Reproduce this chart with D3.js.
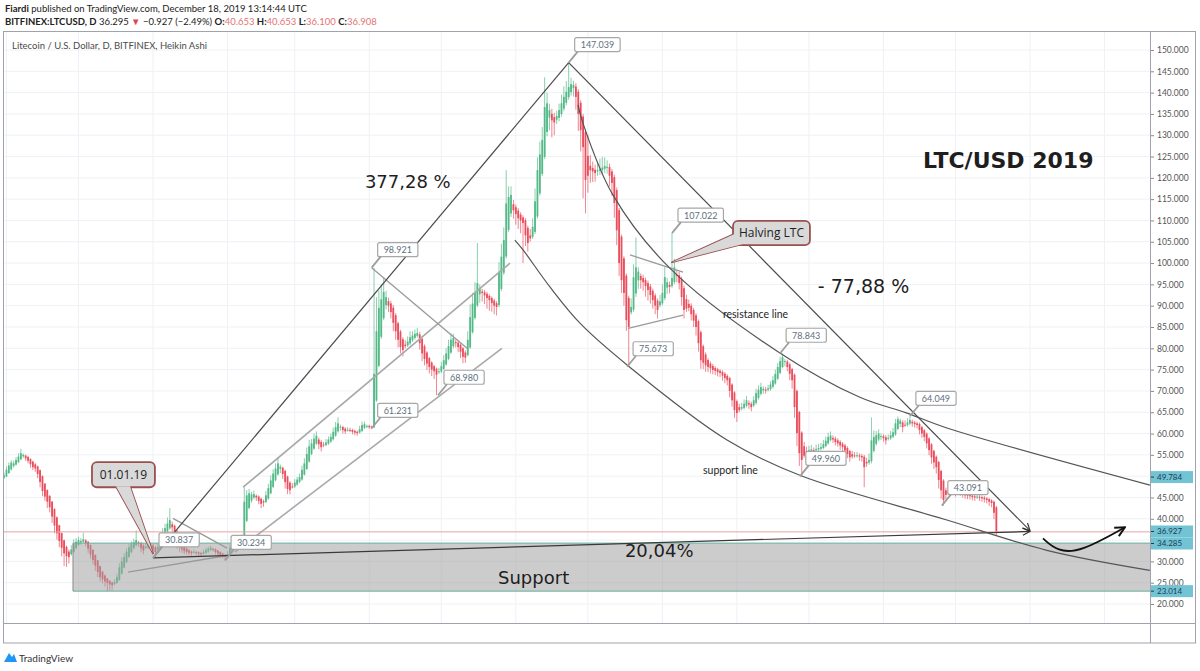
<!DOCTYPE html>
<html><head><meta charset="utf-8">
<script src="https://cdn.jsdelivr.net/npm/d3@7"></script>
<style>body{margin:0;background:#fff;overflow:hidden}svg{display:block}</style>
</head><body>
<svg id="chart" width="1200" height="671"></svg>
<script>
// ---------------- DATA ----------------
const startDate = "2018-10-31";          // first daily Heikin Ashi candle
const firstOpen = 49.6;
// Heikin Ashi close, one per day (Oct 31 2018 -> Dec 18 2019)
const haClose = `
50.2 51.5 52.5 53.2 53.0 53.8 54.6 55.4 55.0 54.2
53.6 52.8 52.1 51.8 50.5 48.6 46.5 45.2 44.0 42.7
40.5 38.4 36.6 34.8 33.2 31.9 31.2 31.0 32.8 34.0
34.6 35.0 34.8 35.2 34.3 33.0 31.6 30.3 29.0 27.5
26.3 25.8 25.3 24.9 24.6 24.4 25.2 26.3 28.6 30.0
31.0 32.3 33.3 34.0 34.5 35.0 34.2 33.1 32.6 33.4
33.8 34.0 32.8 32.2 33.4 35.0 36.6 37.8 38.9 39.7
38.0 36.0 34.5 33.3 32.8 32.4 32.2 32.0 31.9 32.3
32.1 31.8 31.7 32.2 32.6 33.0 33.2 32.8 32.2 31.8
31.5 31.2 31.0 31.6 33.2 33.8 34.2 34.6 35.0 35.5
44.0 45.5 46.0 45.7 45.8 45.0 44.2 43.5 43.8 45.5
47.2 49.0 50.6 51.8 53.0 52.2 50.5 48.6 47.0 46.7
47.5 48.5 49.2 49.8 51.5 53.0 55.2 57.0 57.7 58.8
59.5 57.5 56.8 57.2 57.9 58.6 59.2 60.4 61.5 62.4
61.6 60.8 60.5 60.9 60.8 60.4 60.2 60.1 61.0 62.0
62.2 61.8 61.5 61.3 74.0 84.0 89.5 91.5 93.2 92.0
90.0 88.5 86.0 84.0 82.0 80.3 79.6 80.5 81.6 82.6
83.0 83.4 83.6 81.2 78.8 77.5 76.4 75.6 75.0 74.6
73.8 74.6 75.8 77.2 78.8 80.5 82.0 82.4 81.2 80.3
79.2 78.0 77.8 82.0 87.3 90.5 93.0 95.3 94.0 93.0
92.4 91.8 91.3 90.6 90.0 89.7 97.7 101.5 105.4 114.0
115.5 116.0 112.4 111.5 110.5 110.0 109.4 106.5 104.7 105.8
108.5 114.5 121.8 125.5 128.9 136.6 137.5 135.9 133.5 133.0
134.5 135.9 137.5 139.0 140.2 141.3 142.0 141.8 139.0 135.0
131.2 127.2 119.5 120.5 121.8 121.5 121.1 121.8 122.0 122.4
122.8 122.6 120.5 118.8 114.1 107.7 100.0 96.0 93.0 86.6
85.0 89.7 96.7 99.0 98.0 96.0 95.5 94.6 93.7 92.5
91.3 90.0 89.0 91.0 93.0 96.7 95.5 94.4 96.5 99.0
97.0 95.3 92.0 89.0 89.3 89.5 88.0 86.5 85.0 81.2
77.2 76.6 76.0 75.6 75.3 74.9 74.7 74.4 74.2 73.6
73.0 72.5 70.0 67.8 65.5 64.8 65.5 66.2 67.0 67.8
66.8 66.2 67.8 69.5 70.3 70.9 70.5 70.2 70.6 71.5
72.5 74.0 75.6 77.0 77.9 77.0 75.6 74.0 72.5 66.2
60.1 55.4 53.8 54.8 55.6 56.1 56.3 56.0 56.4 56.6
56.8 57.5 58.3 59.2 59.5 58.6 58.0 57.7 57.2 56.8
56.0 55.2 54.4 54.6 54.8 54.9 54.6 54.4 52.1 53.0
53.8 58.4 59.2 59.6 60.0 59.4 58.9 58.4 59.0 59.6
60.3 62.4 63.4 63.0 61.5 62.0 62.6 63.2 62.4 62.2
62.0 60.8 60.0 59.2 57.7 56.1 54.4 53.2 52.1 49.1
46.7 44.4 45.6 46.0 46.3 46.2 46.0 46.1 46.0 45.8
45.5 45.4 45.3 45.1 45.0 45.2 45.0 44.8 44.6 44.4
44.0 43.7 41.4 36.9`.trim().split(/\s+/).map(Number);
// upper wick above body top (USD)
const wickUp = `
0.6 0.8 0.7 0.5 0.6 0.7 0.8 1.0 0.3 0.2
0.2 0.1 0.2 0.3 0.2 0.2 0.2 0.1 0.2 0.2
0.1 0.2 0.2 0.1 0.1 0.2 0.3 0.5 1.0 1.2
0.9 0.8 0.7 1.5 0.3 0.2 0.2 0.1 0.1 0.1
0.1 0.2 0.2 0.1 0.1 0.2 0.6 0.8 1.0 1.0
0.9 0.8 0.8 0.7 0.8 2.3 0.4 0.3 0.5 0.8
0.6 0.5 0.3 0.3 0.8 1.0 1.2 1.0 1.4 2.8
0.6 0.3 0.2 0.2 0.2 0.3 0.3 0.3 0.3 0.5
0.3 0.2 0.3 0.6 0.6 0.5 0.5 0.3 0.2 0.2
0.2 0.2 0.2 0.8 0.8 0.6 0.6 0.5 0.6 0.8
3.4 1.2 1.0 0.6 0.8 0.3 0.3 0.2 0.4 1.0
1.0 1.2 1.0 1.2 1.4 0.5 0.3 0.3 0.2 0.4
0.8 0.8 0.6 0.8 1.0 1.2 1.5 1.5 1.0 1.2
1.0 0.5 0.4 0.6 0.8 0.7 0.8 1.0 1.2 1.4
0.5 0.3 0.3 0.6 0.5 0.3 0.3 0.3 0.8 0.8
0.6 0.3 0.3 0.2 24.9 8.0 4.0 3.5 3.5 1.5
0.8 0.6 0.6 0.5 0.4 0.4 0.5 1.0 1.2 1.4
1.0 1.0 1.2 0.6 0.4 0.4 0.3 0.3 0.3 0.3
0.3 0.8 1.0 1.2 1.2 1.5 1.5 1.0 0.6 0.5
0.4 0.3 0.5 2.0 3.0 2.5 2.5 9.4 1.0 0.6
0.5 0.5 0.4 0.4 0.4 0.5 2.5 3.0 3.0 7.8
2.5 2.0 1.0 0.6 0.6 0.5 0.5 0.5 0.5 1.5
2.0 3.0 3.0 3.0 3.0 7.0 2.5 1.5 1.2 1.0
1.2 1.5 2.0 2.5 2.5 5.7 1.5 1.0 0.8 0.6
0.6 0.6 0.5 5.0 2.5 1.5 1.2 2.0 2.5 2.5
2.0 1.5 0.8 0.6 0.6 0.6 0.5 0.5 0.5 0.5
0.5 2.0 3.0 7.0 1.0 0.6 0.8 0.6 0.6 0.6
0.5 0.5 0.5 1.5 2.0 2.5 1.0 0.8 10.5 2.0
1.0 0.8 0.6 0.6 1.0 1.0 0.6 0.5 0.5 0.4
0.4 0.4 0.5 0.4 0.5 0.5 0.4 0.4 0.4 0.4
0.4 0.4 0.3 0.3 0.3 0.4 0.8 1.0 1.0 1.0
0.6 0.5 1.0 1.0 1.0 1.0 0.6 0.6 0.8 0.8
1.0 1.0 1.0 1.0 0.9 0.5 0.4 0.4 0.3 0.3
0.3 0.3 0.3 1.0 1.0 1.0 1.0 0.6 1.0 1.0
1.0 1.0 1.0 1.0 1.0 0.6 0.5 0.5 0.4 0.4
0.4 0.4 0.3 0.8 0.8 0.8 0.5 0.5 0.4 1.0
1.5 5.4 1.5 1.0 1.0 0.6 0.5 0.5 0.8 1.0
1.0 1.0 0.6 0.5 0.5 1.0 1.0 0.8 0.5 0.4
0.4 0.4 0.3 0.3 0.3 0.3 0.3 0.3 0.3 0.3
0.3 0.3 0.6 0.8 0.8 0.6 0.5 0.6 0.5 0.4
0.4 0.4 0.4 0.4 0.4 0.6 0.4 0.4 0.4 0.3
0.3 0.3 0.3 0.3`.trim().split(/\s+/).map(Number);
// lower wick below body bottom (USD)
const wickDown = `
0.2 0.1 0.1 0.3 0.4 0.2 0.2 0.1 0.4 0.6
0.6 0.8 0.7 0.8 1.0 1.2 1.2 1.0 1.5 1.2
1.5 1.8 1.5 1.5 2.0 3.0 2.5 1.5 0.3 0.2
0.3 0.3 0.5 0.3 0.8 1.0 0.9 1.0 1.2 1.2
1.0 1.0 1.2 1.9 1.4 1.2 0.4 0.2 0.2 0.2
0.2 0.2 0.3 0.3 0.3 0.3 0.8 1.0 0.9 0.3
0.4 0.5 1.0 1.4 0.3 0.2 0.2 0.3 0.3 0.3
1.5 1.2 1.5 1.0 0.8 0.7 0.6 0.6 0.6 0.3
0.6 0.6 0.5 0.3 0.3 0.3 0.3 0.5 0.6 0.6
0.6 0.5 0.8 0.3 0.2 0.2 0.3 0.3 0.3 0.2
0.2 0.3 0.3 0.5 0.4 0.8 0.8 1.0 1.0 0.3
0.3 0.2 0.3 0.3 0.3 1.0 1.2 1.5 1.2 1.0
0.4 0.3 0.3 0.3 0.3 0.2 0.2 0.3 0.3 0.3
0.3 1.2 1.0 0.4 0.3 0.3 0.3 0.3 0.3 0.3
0.8 0.8 0.6 0.4 0.5 0.6 0.6 0.6 0.3 0.3
0.3 0.5 0.4 0.3 0.2 0.3 0.3 0.5 0.5 1.0
1.5 1.5 2.0 2.0 1.8 1.5 1.5 0.5 0.4 0.4
0.4 0.4 0.4 1.5 1.8 1.5 1.5 1.5 1.5 1.8
4.8 0.5 0.4 0.3 0.3 0.3 0.3 0.5 1.0 1.2
1.5 1.5 1.2 0.3 0.3 0.3 0.4 0.4 2.0 2.0
2.0 2.5 2.5 2.0 2.0 2.0 0.5 0.5 0.5 0.5
0.5 0.8 2.0 2.5 2.5 3.0 9.4 2.5 2.0 0.8
0.5 0.5 0.5 0.5 0.5 0.5 1.0 3.0 4.0 3.0
1.0 0.8 0.6 0.6 0.6 0.6 0.8 2.0 3.0 4.0
5.0 12.0 7.8 4.0 3.0 2.5 2.0 1.0 1.0 1.0
1.0 1.5 2.5 3.0 3.5 3.5 3.0 3.0 3.0 2.5
9.3 0.5 0.5 0.8 2.0 2.0 2.0 2.5 2.5 2.0
2.0 2.0 2.0 0.5 0.5 0.5 1.5 1.5 0.5 0.5
1.5 1.5 2.0 2.0 0.8 0.8 1.5 1.5 2.0 2.0
2.0 1.5 1.5 1.2 1.2 1.0 1.0 1.0 1.0 1.2
1.2 1.2 1.5 1.5 1.8 2.1 0.5 0.4 0.4 0.4
1.0 1.0 0.4 0.4 0.4 0.4 0.8 0.8 0.4 0.4
0.4 0.3 0.3 0.3 0.3 1.0 1.0 1.5 2.0 2.5
3.0 3.0 3.8 0.5 0.5 0.4 0.4 1.0 0.4 0.4
0.4 0.3 0.3 0.3 0.3 0.8 0.8 0.8 1.0 1.0
1.2 1.0 1.0 0.5 0.5 0.5 1.0 1.0 4.7 0.8
0.5 0.5 0.4 0.4 0.4 0.8 0.8 1.0 0.4 0.4
0.3 0.3 0.3 0.8 1.2 0.4 0.4 0.4 0.8 0.8
0.8 1.0 1.0 1.0 1.2 1.2 1.5 1.5 1.5 2.0
2.0 1.3 1.0 0.5 0.5 0.6 0.8 0.5 0.6 0.8
0.8 0.8 0.8 0.8 0.8 0.5 0.8 0.8 0.8 0.8
1.0 1.0 1.5 0.8`.trim().split(/\s+/).map(Number);

// axis ticks
const priceTicks = [20,25,30,35,40,45,50,55,60,65,70,75,80,85,90,95,100,105,110,115,120,125,130,135,140,145,150];
const monthDates = ["2018-11-01","2018-12-01","2019-01-01","2019-02-01","2019-03-01","2019-04-01","2019-05-01","2019-06-01","2019-07-01","2019-08-01","2019-09-01","2019-10-01","2019-11-01","2019-12-01","2020-01-01","2020-02-01"];
const monthLabels = ["Nov","Dec","2019","Feb","Mar","Apr","May","Jun","Jul","Aug","Sep","Oct","Nov","Dec","2020","Feb"];
// price-axis highlighted labels
const axisMarks = [49.784, 36.927, 34.285, 23.014];
const lastPrice = 36.927;
const supportZone = {fromDay: -33.3, top: 34.285, bottom: 23.014};

// drawings: points as [days after 2019-01-01, price]
const riseLine = [[0, 30.837], [173, 147.039]];
const fallLine = [[173, 147.039], [365, 37.2]];
const gainLine = [[0, 30.837], [365, 37.02]];
const resistanceArc = [[176.9,137.1],[178.9,132.9],[191.4,116.0],[215.1,98.8],[260.9,78.9],[294.2,68.5],[313.8,64.8],[330.4,61.3],[414.9,47.9]];
const supportArc = [[150.6,105.4],[154,103.1],[165.2,94.4],[177.7,85.9],[197.3,76.1],[238.9,58.5],[269.2,50.2],[330.4,39.7],[372,32.6],[414.9,27.9]];
const channelUpper = [[37.5,47.4],[148.6,100.0]];
const channelLower = [[34.1,32.2],[145.2,80.0]];
const wedgeLine = [[91,98.921],[130.7,80.0]];
const triUpper = [[198.5,101.9],[220.6,97.9]];
const triLower = [[197.7,84.7],[220.6,87.8]];
const janLow = [[-10.4,27.5],[32,31.5]];
const janHigh = [[8.3,40.1],[30.8,33.1]];
const forecastArrow = [[370.4,35.4],[376.5,32.3],[386,32.2],[404.5,38.0]];

const priceLabels = [
  {d:173, p:147.039}, {d:91, p:98.921}, {d:91, p:61.231}, {d:118.6, p:68.980},
  {d:216, p:107.022}, {d:197.3, p:75.673}, {d:261, p:78.843}, {d:315, p:64.049},
  {d:269.2, p:49.960}, {d:328.3, p:43.091}, {d:0, p:30.837}, {d:30, p:30.234}
];
const callouts = [
  {text:"Halving LTC", d0:241.4, d1:273.4, pTop:109.9, pBot:104.2, tip:[216,100.2], base:"left", size:11},
  {text:"01.01.19", d0:-25.4, d1:0.8, pTop:53.3, pBot:47.4, tip:[0,31.9], base:"bottom", size:11}
];
const notes = [
  {text:"377,28 %", d:88.2, p:117.6, size:18, weight:"normal"},
  {text:"- 77,88 %", d:276.7, p:93.0, size:19, weight:"normal"},
  {text:"LTC/USD 2019", d:320.5, p:122.2, size:22, weight:"bold"},
  {text:"resistance line", d:237.2, p:87.0, size:10.5, weight:"normal"},
  {text:"support line", d:228.9, p:50.6, size:10.5, weight:"normal"},
  {text:"Support", d:143.6, p:24.6, size:18, weight:"normal"},
  {text:"20,04%", d:196.4, p:31.0, size:18, weight:"normal"}
];

// ---------------- CHART ----------------
const svg = d3.select("#chart");
const parse = d3.timeParse("%Y-%m-%d");
const jan1 = parse("2019-01-01");
const dayDate = d => new Date(jan1.getTime() + d * 864e5);
const x = d3.scaleTime().domain([jan1, parse("2020-01-01")]).range([153, 1030]);
const y = d3.scaleLinear().domain([20, 150]).range([604, 50]);
const X = d => x(dayDate(d));
const P = pt => [X(pt[0]), y(pt[1])];
const plot = {l: 3, t: 32, r: 1150, b: 623};
const UP = "#53b987", DOWN = "#eb4d5c";
const uiFont = "Lato, 'Open Sans', sans-serif";
const bigFont = "'DejaVu Sans', Verdana, sans-serif";

const defs = svg.append("defs");
defs.append("clipPath").attr("id", "plotClip").append("rect")
  .attr("x", plot.l).attr("y", plot.t).attr("width", plot.r - plot.l).attr("height", plot.b - plot.t);
defs.append("clipPath").attr("id", "axisClip").append("rect")
  .attr("x", plot.l).attr("y", plot.b).attr("width", plot.r - plot.l).attr("height", 22);
defs.append("marker").attr("id", "arrowDark").attr("viewBox", "0 0 10 10")
  .attr("refX", 9).attr("refY", 5).attr("markerWidth", 9).attr("markerHeight", 9)
  .attr("markerUnits", "userSpaceOnUse").attr("orient", "auto")
  .append("path").attr("d", "M1,1 L9,5 L1,9").attr("fill", "none").attr("stroke", "#333").attr("stroke-width", 1.3);
defs.append("marker").attr("id", "arrowBlack").attr("viewBox", "0 0 10 10")
  .attr("refX", 9).attr("refY", 5).attr("markerWidth", 12).attr("markerHeight", 12)
  .attr("markerUnits", "userSpaceOnUse").attr("orient", "auto")
  .append("path").attr("d", "M1,1 L9,5 L1,9").attr("fill", "none").attr("stroke", "#111").attr("stroke-width", 1.6);

// header
const h1 = svg.append("text").attr("x", 5).attr("y", 12).attr("font-family", uiFont).attr("font-size", 9.5).attr("fill", "#222");
h1.append("tspan").attr("font-weight", "bold").text("Fiardi");
h1.append("tspan").text(" published on TradingView.com, December 18, 2019 13:14:44 UTC");
const h2 = svg.append("text").attr("x", 5).attr("y", 25).attr("font-family", uiFont).attr("font-size", 9.5).attr("fill", "#222");
h2.append("tspan").attr("font-weight", "bold").text("BITFINEX:LTCUSD, D");
h2.append("tspan").text(" 36.295 ");
h2.append("tspan").attr("fill", "#e0474c").text("▼");
h2.append("tspan").text(" −0.927 (−2.49%) ");
[["O:", "40.653"], ["H:", "40.653"], ["L:", "36.100"], ["C:", "36.908"]].forEach(([k, v], i) => {
  h2.append("tspan").attr("font-weight", "bold").text((i ? " " : "") + k);
  h2.append("tspan").attr("fill", "#e57373").text(v);
});

// frame & grid
const grid = svg.append("g");
grid.selectAll("line.h").data(priceTicks).join("line")
  .attr("x1", plot.l).attr("x2", plot.r).attr("y1", d => y(d)).attr("y2", d => y(d))
  .attr("stroke", "#eef1f5").attr("stroke-width", 1);
grid.selectAll("line.v").data(monthDates).join("line")
  .attr("x1", d => x(parse(d))).attr("x2", d => x(parse(d))).attr("y1", plot.t).attr("y2", plot.b)
  .attr("stroke", "#eef1f5").attr("stroke-width", 1);

svg.append("text").attr("x", 12).attr("y", 49).attr("font-family", uiFont).attr("font-size", 9.5)
  .attr("fill", "#4a4a4a").text("Litecoin / U.S. Dollar, D, BITFINEX, Heikin Ashi");

// candles
const start = parse(startDate);
let runOpen = firstOpen;
const candles = haClose.map((c, i) => {
  const open = runOpen;
  runOpen = (open + c) / 2;
  const top = Math.max(open, c), bot = Math.min(open, c);
  return {date: d3.timeDay.offset(start, i), open, close: c, high: top + wickUp[i], low: bot - wickDown[i]};
});
const cg = svg.append("g").attr("clip-path", "url(#plotClip)");
const cand = cg.selectAll("g.c").data(candles).join("g");
cand.append("line")
  .attr("x1", d => x(d.date)).attr("x2", d => x(d.date))
  .attr("y1", d => y(d.high)).attr("y2", d => y(d.low))
  .attr("stroke", d => d.close >= d.open ? UP : DOWN).attr("stroke-width", 0.8).attr("opacity", 0.85);
cand.append("rect")
  .attr("x", d => x(d.date) - 0.9).attr("width", 1.8)
  .attr("y", d => y(Math.max(d.open, d.close)))
  .attr("height", d => Math.max(1, Math.abs(y(d.open) - y(d.close))))
  .attr("fill", d => d.close >= d.open ? UP : DOWN);

// drawings layer
const dg = svg.append("g").attr("clip-path", "url(#plotClip)");
dg.append("line").attr("x1", plot.l).attr("x2", plot.r).attr("y1", y(lastPrice)).attr("y2", y(lastPrice))
  .attr("stroke", "#e8a3a3").attr("stroke-width", 1);
dg.append("rect").attr("x", X(supportZone.fromDay)).attr("y", y(supportZone.top))
  .attr("width", plot.r - X(supportZone.fromDay)).attr("height", y(supportZone.bottom) - y(supportZone.top))
  .attr("fill", "#a3a3a3").attr("fill-opacity", 0.55);
[supportZone.top, supportZone.bottom].forEach(v => dg.append("line")
  .attr("x1", X(supportZone.fromDay)).attr("x2", plot.r).attr("y1", y(v)).attr("y2", y(v))
  .attr("stroke", "#63b09e").attr("stroke-width", 1));
dg.append("line").attr("x1", X(supportZone.fromDay)).attr("x2", X(supportZone.fromDay))
  .attr("y1", y(supportZone.top)).attr("y2", y(supportZone.bottom)).attr("stroke", "#8a8a8a");

const lineGen = d3.line().x(d => X(d[0])).y(d => y(d[1]));
const curveGen = d3.line().x(d => X(d[0])).y(d => y(d[1])).curve(d3.curveCatmullRom.alpha(0.5));
const draw = (pts, gen, color, w, marker) => {
  const p = dg.append("path").attr("d", gen(pts)).attr("fill", "none").attr("stroke", color).attr("stroke-width", w);
  if (marker) p.attr("marker-end", `url(#${marker})`);
  return p;
};
[channelUpper, channelLower].forEach(l => draw(l, lineGen, "#a9a9a9", 1.6));
[wedgeLine, triUpper, triLower, janLow, janHigh].forEach(l => draw(l, lineGen, "#9a9a9a", 1.3));
draw(riseLine, lineGen, "#4a4a4a", 1.2);
draw(fallLine, lineGen, "#4a4a4a", 1.2, "arrowDark");
draw(gainLine, lineGen, "#3a3a3a", 1.2, "arrowDark");
draw(resistanceArc, curveGen, "#555", 1.2);
draw(supportArc, curveGen, "#555", 1.2);
draw(forecastArrow, d3.line().x(d => X(d[0])).y(d => y(d[1])).curve(d3.curveBasis), "#111", 1.8, "arrowBlack");

notes.forEach(n => dg.append("text").attr("x", X(n.d)).attr("y", y(n.p))
  .attr("font-family", n.size > 12 ? bigFont : uiFont).attr("font-size", n.size).attr("font-weight", n.weight)
  .attr("fill", "#1e1e1e").text(n.text));

// price labels
const lg = svg.append("g");
priceLabels.forEach(l => {
  const ax = X(l.d), ay = y(l.p);
  lg.append("line").attr("x1", ax).attr("y1", ay).attr("x2", ax + 9).attr("y2", ay - 11)
    .attr("stroke", "#9e9e9e").attr("stroke-width", 1.8);
  const t = lg.append("text").attr("font-family", uiFont).attr("font-size", 9).attr("fill", "#5d6f80")
    .attr("x", ax + 12).attr("y", ay - 14.5).text(l.p.toFixed(3));
  const w = t.node().getComputedTextLength();
  lg.insert("rect", "text").attr("x", ax + 6).attr("y", ay - 25).attr("width", w + 12).attr("height", 14)
    .attr("rx", 2).attr("fill", "#fff").attr("stroke", "#a7a7a7").attr("stroke-width", 1.2);
  lg.append(() => t.node());
});

// callouts
callouts.forEach(c => {
  const x0 = X(c.d0), x1 = X(c.d1), y0 = y(c.pTop), y1 = y(c.pBot);
  const [tx, ty] = P(c.tip);
  const base = c.base === "left" ? [[x0 + 1, y1 - 11], [x0 + 9, y1 - 1]] : [[x0 + 24, y1 - 1], [x0 + 38, y1 - 1]];
  const tail = `M${base[0][0]},${base[0][1]} L${tx},${ty} L${base[1][0]},${base[1][1]} Z`;
  const g = svg.append("g");
  g.append("path").attr("d", tail).attr("fill", "#d9d9d9").attr("stroke", "#9b4f4f").attr("stroke-width", 1.8).attr("stroke-linejoin", "round");
  g.append("rect").attr("x", x0).attr("y", y0).attr("width", x1 - x0).attr("height", y1 - y0).attr("rx", 5)
    .attr("fill", "#d9d9d9").attr("stroke", "#9b4f4f").attr("stroke-width", 1.8);
  g.append("path").attr("d", tail).attr("fill", "#d9d9d9").attr("stroke", "none");
  g.append("text").attr("x", (x0 + x1) / 2).attr("y", (y0 + y1) / 2 + 4).attr("text-anchor", "middle")
    .attr("font-family", "'Open Sans', sans-serif").attr("font-size", c.size + 1).attr("fill", "#222").text(c.text);
});

// axis highlighted marks positions (stacked marks nudged apart so they do not collide)
const markY = axisMarks.map(v => y(v));
for (let i = 1; i < markY.length; i++) {
  if (markY[i] - markY[i - 1] < 12) {
    const mid = (markY[i] + markY[i - 1]) / 2;
    markY[i - 1] = mid - 6; markY[i] = mid + 6;
  }
}

// axes (tick labels hidden under the highlighted marks, as on the reference)
const visibleTicks = priceTicks.filter(t => markY.every(m => Math.abs(y(t) - m) > 7));
const yAxis = d3.axisRight(y).tickValues(visibleTicks).tickFormat(d3.format(".3f")).tickSize(4).tickPadding(3);
const ya = svg.append("g").attr("transform", `translate(${plot.r},0)`).call(yAxis);
ya.select(".domain").remove();
ya.selectAll("line").attr("stroke", "#8a8a8a");
ya.selectAll("text").attr("font-family", uiFont).attr("font-size", 8.5).attr("fill", "#555");

const xAxis = d3.axisBottom(x).tickValues(monthDates.map(parse))
  .tickFormat((d, i) => monthLabels[i]).tickSize(3).tickPadding(3);
const xa = svg.append("g").attr("transform", `translate(0,${plot.b})`).attr("clip-path", "url(#axisClip)").call(xAxis);
xa.select(".domain").remove();
xa.selectAll("line").attr("stroke", "#8a8a8a");
xa.selectAll("text").attr("font-family", uiFont).attr("font-size", 8.5).attr("fill", "#555");

axisMarks.forEach((v, i) => {
  const g = svg.append("g");
  g.append("rect").attr("x", plot.r).attr("y", markY[i] - 6).attr("width", 43).attr("height", 12).attr("fill", "#72c4d4");
  g.append("line").attr("x1", plot.r).attr("x2", plot.r + 4).attr("y1", markY[i]).attr("y2", markY[i]).attr("stroke", "#1d3a55");
  g.append("text").attr("x", plot.r + 7).attr("y", markY[i] + 3).attr("font-family", uiFont).attr("font-size", 8)
    .attr("fill", "#1d3a55").text(v.toFixed(3));
});

// frame
const fr = svg.append("g").attr("fill", "none").attr("stroke", "#9fa3ab").attr("stroke-width", 1);
fr.append("rect").attr("x", 3.5).attr("y", 31.5).attr("width", 1192).attr("height", 611.5);
fr.append("line").attr("x1", plot.r + 0.5).attr("x2", plot.r + 0.5).attr("y1", 31.5).attr("y2", 643);
fr.append("line").attr("x1", 3.5).attr("x2", 1195.5).attr("y1", plot.b + 0.5).attr("y2", plot.b + 0.5);

// footer logo
const logo = svg.append("g").attr("transform", "translate(4,651)");
logo.append("path").attr("d", "M0,11 L5,2 L8,6 L10,3 L13,11 Z").attr("fill", "#2196f3");
svg.append("text").attr("x", 19).attr("y", 662).attr("font-family", uiFont).attr("font-size", 10)
  .attr("fill", "#333").text("TradingView");
</script>
</body></html>
